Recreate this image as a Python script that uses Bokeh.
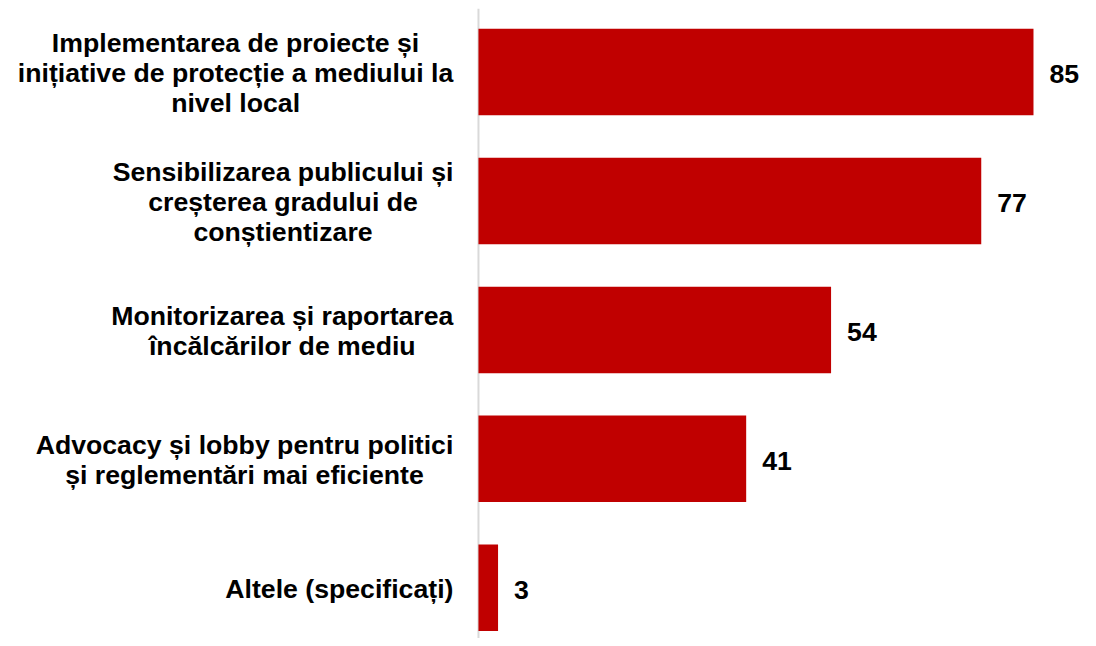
from bokeh.plotting import figure
from bokeh.models import ColumnDataSource, Range1d, Span
from bokeh.core.properties import value
from bokeh.embed import file_html
from bokeh.resources import INLINE

categories = [
    "Implementarea de proiecte și\ninițiative de protecție a mediului la\nnivel local",
    "Sensibilizarea publicului și\ncreșterea gradului de\nconștientizare",
    "Monitorizarea și raportarea\nîncălcărilor de mediu",
    "Advocacy și lobby pentru politici\nși reglementări mai eficiente",
    "Altele (specificați)",
]
values = [85, 77, 54, 41, 3]

FONT = "Liberation Sans"
FS = 26.67
BAR_COLOR = "#C00000"

# Arial/Liberation Sans Bold advance widths (per 1000 em) to centre each label block
W = dict(a=556, b=611, c=556, d=611, e=556, f=333, g=611, h=611, i=278, j=278, k=556,
         l=278, m=889, n=611, o=611, p=611, q=611, r=389, s=556, t=333, u=611, v=556,
         w=778, x=556, y=556, z=500, A=722, I=278, M=833, S=667)
W.update({" ": 278, "(": 333, ")": 333, "ș": 556, "ț": 333, "ă": 556, "â": 556, "î": 278})

def block_width(label):
    return max(sum(W.get(ch, 556) for ch in line) for line in label.split("\n")) / 1000 * FS

idx = list(range(len(categories)))
gap = 25
src = ColumnDataSource(dict(
    y=idx, v=values, cat=categories, lbl=[str(v) for v in values],
    zero=[0] * len(values),
    off=[-(gap + block_width(c) / 2) for c in categories],
))

p = figure(width=1080, height=638, output_backend="svg", toolbar_location=None,
           x_range=Range1d(-73.2, 92.2), y_range=Range1d(4.394, -0.493),
           min_border_left=0, min_border_right=0, min_border_top=8, min_border_bottom=0)
p.outline_line_color = None
p.grid.visible = False
p.axis.visible = False

p.add_layout(Span(location=0, dimension="height", line_color="#d9d9d9", line_width=2,
                  level="underlay"))

p.hbar(y="y", right="v", left=0, height=0.671, source=src, fill_color=BAR_COLOR,
       line_color=None)

p.text(x="zero", y="y", text="cat", x_offset="off", y_offset=1, source=src,
       text_align="center", text_baseline="middle", text_font=value(FONT),
       text_font_style="bold", text_font_size=f"{FS}px", text_line_height=0.99,
       text_color="#000000")

p.text(x="v", y="y", text="lbl", x_offset=16, y_offset=2, source=src, text_align="left",
       text_baseline="middle", text_font=value(FONT), text_font_style="bold",
       text_font_size=f"{FS}px", text_color="#000000")

open("out.html", "w").write(file_html(p, INLINE))
